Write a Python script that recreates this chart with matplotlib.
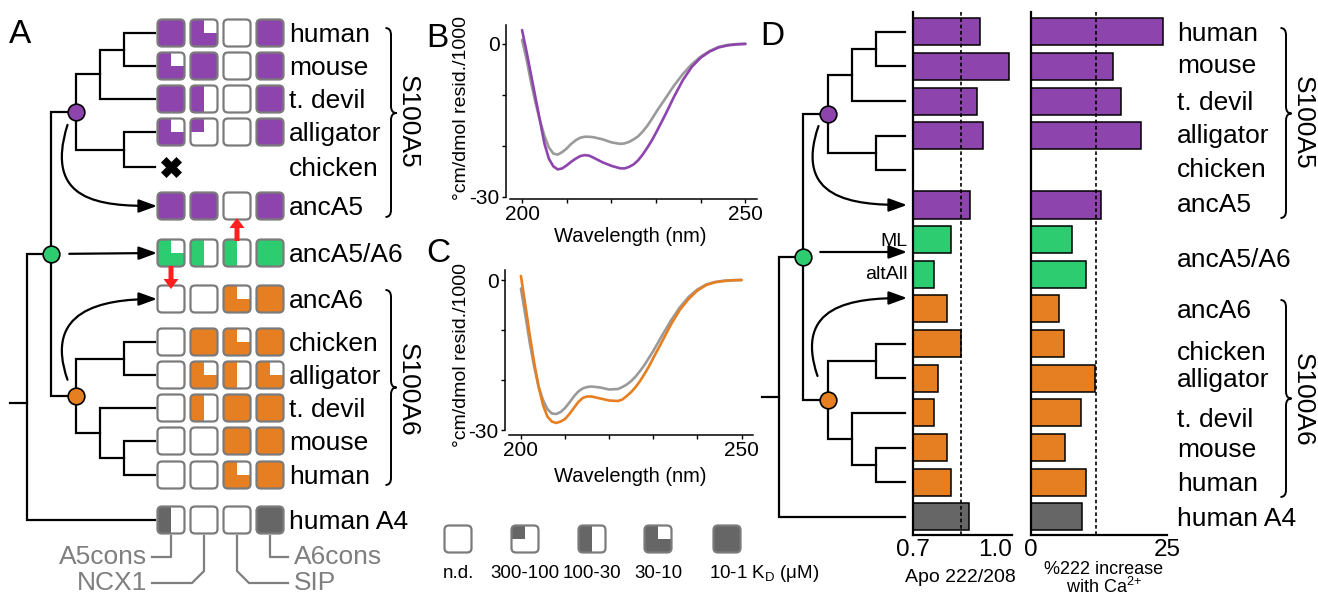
import numpy as np
import matplotlib
matplotlib.use('Agg')
import matplotlib.pyplot as plt
from matplotlib.patches import FancyBboxPatch, Polygon, FancyArrowPatch, PathPatch
from matplotlib.path import Path

plt.rcParams['font.family'] = ['Liberation Sans', 'DejaVu Sans']
plt.rcParams['mathtext.fontset'] = 'custom'
plt.rcParams['mathtext.rm'] = 'Liberation Sans'
plt.rcParams['mathtext.it'] = 'Liberation Sans:italic'
plt.rcParams['mathtext.bf'] = 'Liberation Sans:bold'

# ------------------------------------------------------------------ data
# Panel A: binding grid (0 = n.d., 1 = 300-100, 2 = 100-30, 3 = 30-10, 4 = 10-1 uM)
grid_labels = ['human', 'mouse', 't. devil', 'alligator', 'chicken', 'ancA5',
               'ancA5/A6', 'ancA6', 'chicken', 'alligator', 't. devil', 'mouse',
               'human', 'human A4']
grid_groups = ['A5', 'A5', 'A5', 'A5', 'A5', 'A5', 'anc', 'A6', 'A6', 'A6', 'A6',
               'A6', 'A6', 'A4']
binding = [[4, 3, 0, 4], [3, 4, 0, 4], [4, 2, 0, 4], [3, 1, 0, 4], None,
           [4, 4, 0, 4], [3, 2, 2, 4], [0, 0, 3, 4], [0, 4, 3, 4], [0, 3, 2, 3],
           [0, 2, 4, 4], [0, 0, 4, 4], [0, 0, 3, 4], [2, 0, 0, 4]]
peptides = ['A5cons', 'NCX1', 'SIP', 'A6cons']
legend_codes = [0, 1, 2, 3, 4]
legend_labels = ['n.d.', '300-100', '100-30', '30-10', r'10-1 K$_{\rm D}$ (μM)']
# tree topology (leaf = row index in grid)
tree_A = (((((0, 1), 2), (3, 4)), ((8, 9), (10, (11, 12)))), 13)

# Panels B, C: CD spectra
wl = [200, 201, 202, 203, 204, 205, 206, 207, 208, 209, 210, 211, 212, 213, 214,
      215, 216, 218, 220, 222, 223, 224, 225, 226, 227, 228, 229, 230, 232, 234,
      236, 238, 240, 242, 244, 246, 248, 250]
b_gray = [0.8, -3, -7.5, -11.5, -15, -18, -20.3, -21.5, -21.7, -21.2, -20.5, -19.6,
          -18.9, -18.4, -18.2, -18.2, -18.3, -18.7, -19.3, -19.6, -19.5, -19.2,
          -18.7, -18.1, -17.2, -16.1, -14.8, -13.4, -10.8, -8.2, -5.9, -4.0, -2.5,
          -1.4, -0.6, -0.2, -0.05, 0]
b_purple = [2.7, -1.5, -6, -10.5, -15, -19.5, -22.5, -24, -24.6, -24.4, -23.8,
            -23.1, -22.5, -22, -21.8, -21.9, -22.3, -23.2, -23.9, -24.4, -24.4,
            -24.1, -23.6, -22.8, -21.7, -20.4, -19, -17.4, -14, -10.4, -7.1, -4.5,
            -2.7, -1.5, -0.7, -0.3, -0.1, 0]
c_gray = [-1.7, -7, -12.5, -17.3, -21.3, -24, -25.8, -26.7, -26.8, -26.4, -25.6,
          -24.5, -23.3, -22.3, -21.7, -21.4, -21.3, -21.5, -21.9, -21.8, -21.4,
          -20.9, -20.2, -19.3, -18.2, -17, -15.6, -14.2, -11.1, -8.1, -5.5, -3.4,
          -1.9, -0.9, -0.4, -0.15, -0.05, 0]
c_orange = [0.8, -5, -11, -16.5, -21.3, -25, -27.3, -28.3, -28.6, -28.3, -27.8,
            -26.8, -25.6, -24.4, -23.6, -23.3, -23.3, -23.7, -24.1, -24.2, -23.9,
            -23.2, -22.4, -21.4, -20.2, -18.8, -17.3, -15.6, -12.3, -8.9, -6, -3.8,
            -2.1, -1.0, -0.45, -0.2, -0.05, 0]

# Panel D: bars
bar_names = ['human', 'mouse', 't. devil', 'alligator', 'chicken', 'ancA5', 'ML',
             'altAll', 'ancA6', 'chicken', 'alligator', 't. devil', 'mouse',
             'human', 'human A4']
bar_groups = ['A5', 'A5', 'A5', 'A5', 'A5', 'A5', 'anc', 'anc', 'A6', 'A6', 'A6',
              'A6', 'A6', 'A6', 'A4']
apo_ratio = [0.904, 0.993, 0.894, 0.914, np.nan, 0.874, 0.816, 0.766, 0.805, 0.845,
             0.776, 0.766, 0.805, 0.816, 0.872]
ca_increase = [24.2, 15.0, 16.5, 20.2, np.nan, 12.8, 7.6, 10.2, 5.2, 6.1, 11.8, 9.1,
               6.25, 10.1, 9.4]
apo_ref = 0.846
ca_ref = 11.9
d_labels = ['human', 'mouse', 't. devil', 'alligator', 'chicken', 'ancA5',
            'ancA5/A6', 'ancA6', 'chicken', 'alligator', 't. devil', 'mouse',
            'human', 'human A4']
d_label_slots = [0, 0.93, 1.99, 2.95, 3.93, 4.94, 6.53, 8.0, 9.21, 9.99, 11.15,
                 12.0, 13.0, 14.0]
tree_D = (((((0, 1), 2), (3, 4)), ((9, 10), (11, (12, 13)))), 14)

# ------------------------------------------------------------------ style
PURPLE, GREEN, ORANGE, GRAYF = '#8e44ad', '#2ecc71', '#e67e22', '#666666'
EDGE = '#7b7b7b'
TXT_GRAY = '#7f7f7f'
gcol = {'A5': PURPLE, 'anc': GREEN, 'A6': ORANGE, 'A4': GRAYF}
FS = 19
ARROW = '-|>,head_length=1.1,head_width=0.4'

W, H = 1318, 597
fig = plt.figure(figsize=(W / 100, H / 100), dpi=100)
ov = fig.add_axes([0, 0, 1, 1])
ov.set_xlim(0, W)
ov.set_ylim(H, 0)
ov.axis('off')


def add_ax(x0, y0, x1, y1):
    a = fig.add_axes([x0 / W, 1 - y1 / H, (x1 - x0) / W, (y1 - y0) / H])
    a.set_facecolor('none')
    return a


def rsquare(ax, cx, cy, code, color, s=27, r=4.5):
    kw = dict(boxstyle=f'round,pad={r}')
    base = FancyBboxPatch((cx - s / 2 + r, cy - s / 2 + r), s - 2 * r, s - 2 * r,
                          fc='white', ec='none', zorder=3, **kw)
    ax.add_patch(base)
    L, R, T, B = cx - s / 2 - 1, cx + s / 2 + 1, cy - s / 2 - 1, cy + s / 2 + 1
    shapes = {1: [(L, T), (cx, T), (cx, cy), (L, cy)],
              2: [(L, T), (cx, T), (cx, B), (L, B)],
              3: [(L, T), (cx, T), (cx, cy), (R, cy), (R, B), (L, B)],
              4: [(L, T), (R, T), (R, B), (L, B)]}
    if code in shapes:
        p = Polygon(shapes[code], closed=True, fc=color, ec='none', zorder=4)
        p.set_clip_path(base)
        ax.add_patch(p)
    ax.add_patch(FancyBboxPatch((cx - s / 2 + r, cy - s / 2 + r), s - 2 * r,
                                s - 2 * r, fc='none', ec=EDGE, lw=1.6, zorder=5,
                                **kw))


def build(node, ypos):
    if isinstance(node, int):
        return {'h': 0, 'y': ypos[node], 'kids': []}
    kids = [build(c, ypos) for c in node]
    return {'h': max(k['h'] for k in kids) + 1,
            'y': float(np.mean([k['y'] for k in kids])), 'kids': kids}


def draw_tree(ax, tree, ypos, x_tip, x_cherry, step, root_frac, stub_x):
    root = build(tree, ypos)
    k0, k1 = root['kids']
    root['y'] = k0['y'] + root_frac * (k1['y'] - k0['y'])

    def xf(n):
        return x_tip if n['h'] == 0 else x_cherry - (n['h'] - 1) * step

    def rec(n):
        if not n['kids']:
            return
        a, b = n['kids']
        ax.plot([xf(a), xf(n), xf(n), xf(b)], [a['y'], a['y'], b['y'], b['y']],
                color='black', lw=1.6, solid_joinstyle='miter', zorder=2)
        rec(a)
        rec(b)
    rec(root)
    ax.plot([stub_x, xf(root)], [root['y']] * 2, color='black', lw=1.6, zorder=2)
    green = k0
    purple, orange = green['kids']
    out = {}
    for name, n, c in [('green', green, GREEN), ('purple', purple, PURPLE),
                       ('orange', orange, ORANGE)]:
        ax.plot(xf(n), n['y'], 'o', ms=12, mfc=c, mec='black', mew=1.2, zorder=6)
        out[name] = (xf(n), n['y'])
    return out


def curved_arrow(ax, p0, p1, p2, p3):
    path = Path([p0, p1, p2, p3], [Path.MOVETO, Path.CURVE4, Path.CURVE4, Path.CURVE4])
    ax.add_patch(FancyArrowPatch(path=path, arrowstyle=ARROW, mutation_scale=10,
                                 lw=1.6, color='black', zorder=7))


def straight_arrow(ax, p0, p1):
    ax.add_patch(FancyArrowPatch(p0, p1, arrowstyle=ARROW, mutation_scale=10,
                                 lw=1.6, color='black', zorder=7,
                                 shrinkA=0, shrinkB=0))


def brace(ax, x, y0, y1, frac, w=5.5, r=7):
    ym = y0 + frac * (y1 - y0)
    verts = [(x - w, y0), (x, y0), (x, y0 + r), (x, ym - r), (x, ym), (x + w, ym),
             (x, ym), (x, ym + r), (x, y1 - r), (x, y1), (x - w, y1)]
    codes = [Path.MOVETO, Path.CURVE3, Path.CURVE3, Path.LINETO, Path.CURVE3,
             Path.CURVE3, Path.CURVE3, Path.CURVE3, Path.LINETO, Path.CURVE3,
             Path.CURVE3]
    ax.add_patch(PathPatch(Path(verts, codes), fc='none', ec='black', lw=1.4,
                           zorder=3))


# ------------------------------------------------------------------ Panel A
col_x = [171, 204, 237, 270]
row_y = [33, 66, 99, 132, 167, 206, 253, 299, 342, 375, 408, 441, 475, 520]
for i, (lab, grp, codes) in enumerate(zip(grid_labels, grid_groups, binding)):
    if codes is None:
        ov.plot(col_x[0], row_y[i], marker='X', ms=14, color='black', mew=0.5,
                zorder=6)
    else:
        for cx, code in zip(col_x, codes):
            rsquare(ov, cx, row_y[i], code, gcol[grp])
    ov.text(289, row_y[i] + 9, lab, fontsize=FS, va='baseline', ha='left')

nodesA = draw_tree(ov, tree_A, row_y, 155, 124, 24.25, 0.56, 10)
px, py = nodesA['purple']
curved_arrow(ov, (px - 8, py + 13), (px - 32, py + 90), (px + 25, row_y[5]),
             (157, row_y[5]))
gx, gy = nodesA['green']
straight_arrow(ov, (gx + 18, gy), (157, row_y[6]))
ox, oy = nodesA['orange']
curved_arrow(ov, (ox - 8, oy - 16), (ox - 32, oy - 85), (ox + 25, row_y[7]),
             (157, row_y[7]))

for xa, ya, yb in [(col_x[2], 241, 218), (col_x[0], 266, 289)]:
    ov.add_patch(FancyArrowPatch((xa, ya), (xa, yb),
                                 arrowstyle='simple,head_length=0.72,head_width=1.08,tail_width=0.36',
                                 mutation_scale=10, color='#ff1f1f', lw=0,
                                 shrinkA=0, shrinkB=0, zorder=8))

brace(ov, 391, 28, 217, 0.45)
brace(ov, 391, 290, 485, 0.5)
ov.text(408, 122, 'S100A5', rotation=-90, fontsize=FS, ha='center', va='center')
ov.text(408, 390, 'S100A6', rotation=-90, fontsize=FS, ha='center', va='center')

# peptide labels
ytop = row_y[-1] + 16
pep_paths = [[(col_x[0], ytop), (col_x[0], 557), (152, 557)],
             [(col_x[1], ytop), (col_x[1], 571), (col_x[1] - 12, 583), (152, 583)],
             [(col_x[2], ytop), (col_x[2], 571), (col_x[2] + 12, 583), (288, 583)],
             [(col_x[3], ytop), (col_x[3], 557), (288, 557)]]
pep_text = [(147, 557, 'right'), (147, 583, 'right'), (294, 583, 'left'),
            (294, 557, 'left')]
for name, pth, (tx, ty, ha) in zip(peptides, pep_paths, pep_text):
    xs, ys = zip(*pth)
    ov.plot(xs, ys, color=TXT_GRAY, lw=1.6, zorder=2)
    ov.text(tx, ty, name, fontsize=FS, color=TXT_GRAY, ha=ha, va='center')

# legend
leg_x = [458, 525, 592, 658, 727]
for cx, code, lab in zip(leg_x, legend_codes, legend_labels):
    rsquare(ov, cx, 539, code, GRAYF)
    if code == 4:
        ov.text(cx - 18, 573, lab, fontsize=13.5, ha='left', va='center')
    else:
        ov.text(cx, 573, lab, fontsize=13.5, ha='center', va='center')


# ------------------------------------------------------------------ Panels B, C
def cd_axes(box, ylim, curves, ylab_y, xlab_y):
    a = add_ax(*box)
    for vals, col in curves:
        a.plot(wl, vals, color=col, lw=1.9, solid_capstyle='round')
    a.set_xlim(197.3, 252.6)
    a.set_ylim(*ylim)
    for s in ['top', 'right']:
        a.spines[s].set_visible(False)
    a.spines['left'].set_position(('outward', 3))
    a.spines['left'].set_bounds(-30, ylim[1])
    for s in ['left', 'bottom']:
        a.spines[s].set_linewidth(1.1)
    a.set_xticks([200, 210, 220, 230, 240, 250])
    a.set_xticklabels(['200', '', '', '', '', '250'])
    a.set_yticks([0, -10, -20, -30])
    a.set_yticklabels(['0', '', '', '-30'])
    a.tick_params(labelsize=15, length=3, width=1, pad=1.5)
    ov.text(461, ylab_y, '°cm/dmol resid./1000', rotation=90, fontsize=14,
            ha='center', va='center')
    ov.text(630, xlab_y, 'Wavelength (nm)', fontsize=14.5, ha='center', va='center')
    return a


cd_axes((510, 25, 757, 199), (-30.4, 3.7), [(b_gray, '#9a9a9a'), (b_purple, PURPLE)],
        108, 237)
cd_axes((509, 270, 753, 435), (-31, 2.0), [(c_gray, '#9a9a9a'), (c_orange, ORANGE)],
        355, 477)

# ------------------------------------------------------------------ Panel D
SLOT0, SLOTD = 31.7, 34.66
ytop_px, ybot_px = 12, 535
ylim_d = ((ybot_px - SLOT0) / SLOTD, (ytop_px - SLOT0) / SLOTD)
slots = np.arange(len(bar_names))
bar_cols = [gcol[g] for g in bar_groups]


def slot_px(s):
    return SLOT0 + SLOTD * s


def bar_axes(box, vals, x0, x1, ref, ticklabels):
    a = add_ax(*box)
    v = np.array(vals, dtype=float)
    a.barh(slots, v - x0, left=x0, height=0.78, color=bar_cols, edgecolor='black',
           linewidth=1.1, zorder=2)
    a.axvline(ref, color='black', lw=1.2, ls=(0, (2.2, 1.6)), zorder=3)
    a.set_xlim(x0, x1)
    a.set_ylim(*ylim_d)
    a.set_yticks([])
    for s in ['top', 'right']:
        a.spines[s].set_visible(False)
    for s in ['left', 'bottom']:
        a.spines[s].set_linewidth(1.6)
    a.set_xticks([x0, x1])
    a.set_xticklabels(ticklabels)
    a.tick_params(axis='x', length=0, labelsize=17.5, pad=3)
    return a


axL = bar_axes((912.7, ytop_px, 1011.7, ybot_px), apo_ratio, 0.7, 1.0, apo_ref,
               ['0.7', '1.0'])
axL.get_xticklabels()[1].set_ha('right')
axR = bar_axes((1031, ytop_px, 1167, ybot_px), ca_increase, 0, 25, ca_ref,
               ['0', '25'])

ov.text(960, 577, 'Apo 222/208', fontsize=14, ha='center', va='center')
ov.text(1104, 569, '%222 increase', fontsize=13, ha='center', va='center')
ov.text(1104, 587, r'with Ca$^{2{+}}$', fontsize=13, ha='center', va='center')

d_ypos = {i: slot_px(i) for i in range(len(bar_names))}
nodesD = draw_tree(ov, tree_D, d_ypos, 905, 876, 24.25, 0.54, 762)
px, py = nodesD['purple']
curved_arrow(ov, (px - 9, py + 12), (px - 34, py + 85), (px + 25, slot_px(5)),
             (907, slot_px(5)))
gx, gy = nodesD['green']
straight_arrow(ov, (gx + 17, 252), (907, 252))
ox, oy = nodesD['orange']
curved_arrow(ov, (ox - 10, oy - 24), (ox - 34, oy - 95), (ox + 25, 298), (907, 298))
ov.text(908, slot_px(6) + 6, bar_names[6], fontsize=14, ha='right', va='baseline')
ov.text(908, slot_px(7) + 5, bar_names[7], fontsize=14, ha='right', va='baseline')

for lab, s in zip(d_labels, d_label_slots):
    ov.text(1177, slot_px(s) + 9, lab, fontsize=FS, ha='left', va='baseline')
brace(ov, 1286, 28, 218, 0.45)
brace(ov, 1286, 300, 497, 0.5)
ov.text(1303, 123, 'S100A5', rotation=-90, fontsize=FS, ha='center', va='center')
ov.text(1303, 400, 'S100A6', rotation=-90, fontsize=FS, ha='center', va='center')

# panel letters
for x, y, t in [(9, 43, 'A'), (426, 47, 'B'), (426, 262, 'C'), (760, 45, 'D')]:
    ov.text(x, y, t, fontsize=24, ha='left', va='baseline')

fig.savefig('out.png', dpi=100)
